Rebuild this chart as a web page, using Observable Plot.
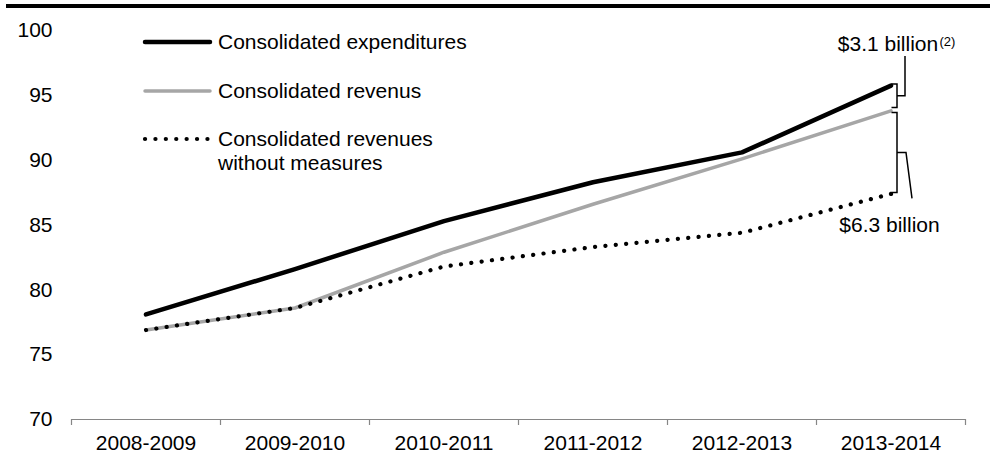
<!DOCTYPE html>
<html><head><meta charset="utf-8">
<script src="https://cdn.jsdelivr.net/npm/d3@7"></script>
<script src="https://cdn.jsdelivr.net/npm/@observablehq/plot@0.6"></script>
<style>
body{margin:0;background:#fff;font-family:Arial,"Liberation Sans",sans-serif;}
#wrap{position:relative;width:990px;height:459px;overflow:hidden;}
#rule{position:absolute;left:6px;right:0;top:4px;height:4px;background:#000;}
#legend{position:absolute;left:0;top:0;}
</style></head><body>
<div id="wrap"><div id="chart"></div><div id="rule"></div><svg id="legend" width="990" height="200"></svg></div>
<script>
const years = ["2008-2009","2009-2010","2010-2011","2011-2012","2012-2013","2013-2014"];
const expenditures = [78.1, 81.6, 85.3, 88.3, 90.6, 95.75];
const revenues = [76.9, 78.6, 82.9, 86.6, 90.1, 93.8];
const revenuesWithout = [76.9, 78.6, 81.8, 83.3, 84.4, 87.4];
const yTicks = [70, 75, 80, 85, 90, 95, 100];
const seriesNames = ["Consolidated expenditures", "Consolidated revenus", "Consolidated revenues\nwithout measures"];
const gapLabels = ["$3.1 billion", "$6.3 billion"];
const gapNote = "(2)";

const idx = years.map((_, i) => i);
const edges = [-0.5, ...idx.map(i => i + 0.5)];
const last = years.length - 1;
const rows = (arr) => arr.map((v, i) => ({i, v}));

const FONT = 'Arial, "Liberation Sans", sans-serif';
const FS = 21;
const styles = [
  {stroke: "#000", strokeWidth: 4.5},
  {stroke: "#a6a6a6", strokeWidth: 3.5},
  {stroke: "#000", strokeWidth: 4.2, strokeDasharray: "0.1 10.3", strokeLinecap: "round"}
];

function brackets(index, {x, y}) {
  const x0 = x(last);
  const g = d3.create("svg:g").attr("fill", "none").attr("stroke", "#000").attr("stroke-width", 1.5);
  const bx = x0 + 6.5, lx = x0 + 1, mx = x0 + 14.5;
  const ye = y(expenditures[last]), yr = y(revenues[last]), yw = y(revenuesWithout[last]);
  const t1 = ye - 1, b1 = yr - 3, m1 = (t1 + b1) / 2;
  g.append("path").attr("d", `M${lx},${t1}H${bx}V${b1}H${lx}M${bx},${m1}H${mx}V${ye - 29}`);
  const t2 = yr + 2, b2 = yw - 1, m2 = (t2 + b2) / 2;
  g.append("path").attr("d", `M${lx},${t2}H${bx}V${b2}H${lx}M${bx},${m2}H${mx + 1}L${mx + 7},${yw + 5}`);
  return g.node();
}

const chart = Plot.plot({
  width: 990, height: 459,
  marginTop: 30, marginBottom: 40, marginLeft: 71, marginRight: 25,
  style: {fontFamily: FONT, fontSize: FS + "px", color: "#000", background: "#fff"},
  x: {domain: [-0.5, 5.5], label: null},
  y: {domain: [70, 100], label: null},
  marks: [
    Plot.ruleY([70], {stroke: "#868686", strokeWidth: 1.2}),
    Plot.axisX({ticks: edges, tickFormat: () => "", tickSize: 6, stroke: "#868686", strokeWidth: 1.2}),
    Plot.axisX({ticks: idx, tickFormat: i => years[i], tickSize: 0, tickPadding: 16}),
    Plot.axisY({ticks: yTicks, tickSize: 0, tickPadding: 19}),
    Plot.line(rows(revenues), {x: "i", y: "v", ...styles[1]}),
    Plot.line(rows(revenuesWithout), {x: "i", y: "v", ...styles[2]}),
    Plot.line(rows(expenditures), {x: "i", y: "v", ...styles[0], strokeLinejoin: "round"}),
    brackets,
    Plot.text([gapLabels[0]], {x: last, y: expenditures[last], text: d => d, dx: -3, dy: -41}),
    Plot.text([gapNote], {x: last, y: expenditures[last], text: d => d, textAnchor: "start", dx: 48.5, dy: -44, fontSize: 13}),
    Plot.text([gapLabels[1]], {x: last, y: revenuesWithout[last], text: d => d, dx: -1.5, dy: 31})
  ]
});
document.getElementById("chart").appendChild(chart);

const lg = d3.select("#legend");
const ly = [42, 91, 139];
seriesNames.forEach((name, k) => {
  const s = styles[k];
  lg.append("line").attr("x1", 145).attr("x2", 210).attr("y1", ly[k]).attr("y2", ly[k])
    .attr("stroke", s.stroke).attr("stroke-width", s.strokeWidth)
    .attr("stroke-dasharray", s.strokeDasharray || null)
    .attr("stroke-linecap", "round");
  const t = lg.append("text").attr("x", 218).attr("y", ly[k]).attr("font-family", FONT).attr("font-size", FS).attr("fill", "#000");
  name.split("\n").forEach((line, j) => {
    t.append("tspan").attr("x", 218).attr("dy", j === 0 ? "0.35em" : 24).text(line);
  });
});
</script>
</body></html>
